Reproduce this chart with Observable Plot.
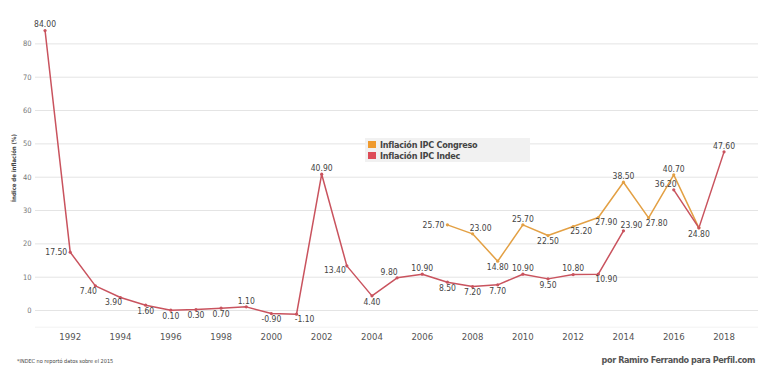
<!DOCTYPE html>
<html><head><meta charset="utf-8">
<script src="https://cdn.jsdelivr.net/npm/d3@7"></script>
<script src="https://cdn.jsdelivr.net/npm/@observablehq/plot@0.6"></script>
<style>
body{margin:0;background:#fff;font-family:"DejaVu Sans",sans-serif;font-stretch:condensed;}
#wrap{position:relative;width:765px;height:377px;overflow:hidden}
#chart svg{display:block;font-stretch:condensed}
.ylab{position:absolute;left:13px;top:167.5px;transform:translate(-50%,-50%) rotate(-90deg);font-size:6px;font-weight:bold;color:#444;white-space:nowrap;line-height:7px}
.legend{position:absolute;left:365px;top:138px;width:165px;height:24px;background:#f1f1f1;}
.legend .it{position:absolute;left:3px;height:11px;line-height:11px;font-size:9px;font-weight:bold;letter-spacing:-0.25px;color:#444;white-space:nowrap}
.legend .sw{display:inline-block;width:8px;height:7px;margin-right:4px;vertical-align:0px}
.foot{position:relative;height:27px}
.foot .l{position:absolute;left:17px;top:8px;font-size:5.5px;color:#444}
.foot .r{position:absolute;right:10px;top:5px;font-size:9px;font-weight:bold;letter-spacing:-0.4px;color:#555}
</style></head><body>
<div id="wrap">
<div id="chart"></div>
<div class="foot"><span class="l">*INDEC no reportó datos sobre el 2015</span><span class="r">por Ramiro Ferrando para Perfil.com</span></div>
</div>
<script>
const years = [1991,1992,1993,1994,1995,1996,1997,1998,1999,2000,2001,2002,2003,2004,2005,2006,2007,2008,2009,2010,2011,2012,2013,2014,2015,2016,2017,2018];
const indec = [84.0,17.5,7.4,3.9,1.6,0.1,0.3,0.7,1.1,-0.9,-1.1,40.9,13.4,4.4,9.8,10.9,8.5,7.2,7.7,10.9,9.5,10.8,10.9,23.9,null,36.2,24.8,47.6];
const indecLabelPos = ["t","l","bl","bl","b","b","b","b","t","b","br","t","lb","b","tl","t","b","b","b","t","b","t","br","tr",null,"tl",null,"t"];
const congresoYears = [2007,2008,2009,2010,2011,2012,2013,2014,2015,2016,2017];
const congreso = [25.7,23.0,14.8,25.7,22.5,25.2,27.9,38.5,27.8,40.7,24.8];
const congresoLabelPos = ["l","tr","b","t","b","br","br","t","br","t","b"];
const yTicks = [0,10,20,30,40,50,60,70,80];
const xTicks = [1992,1994,1996,1998,2000,2002,2004,2006,2008,2010,2012,2014,2016,2018];
const yLabel = "Índice de inflación (%)";
const seriesNames = ["Inflación IPC Congreso","Inflación IPC Indec"];
const seriesColors = ["#e3a044","#c9535e"];
const legendColors = ["#ef9a2e","#dd4b57"];

const indecRows = years.map((y,i)=>({year:y,value:indec[i],pos:indecLabelPos[i]}));
const congRows = congresoYears.map((y,i)=>({year:y,value:congreso[i],pos:congresoLabelPos[i]}));

const placements = {
  t:{dx:0,dy:-6,textAnchor:"middle"},
  b:{dx:0,dy:6,textAnchor:"middle"},
  l:{dx:-3,dy:0,textAnchor:"end"},
  lb:{dx:-1,dy:4,textAnchor:"end"},
  bl:{dx:-7,dy:5,textAnchor:"middle"},
  br:{dx:8,dy:5,textAnchor:"middle"},
  tr:{dx:8,dy:-6,textAnchor:"middle"},
  tl:{dx:-8,dy:-6,textAnchor:"middle"}
};
const font = '"DejaVu Sans",sans-serif';
const fmt = v => v.toFixed(2);

function labelMarks(rows){
  return Object.entries(placements).map(([k,p]) =>
    Plot.text(rows.filter(r=>r.pos===k && r.value!=null),{x:"year",y:"value",text:d=>fmt(d.value),dx:p.dx,dy:p.dy,textAnchor:p.textAnchor,lineAnchor:"middle",fill:"#444",fontSize:8.5,letterSpacing:"-0.2px"}));
}

const chart = Plot.plot({
  width:765, height:350,
  marginLeft:35, marginRight:7, marginTop:26.7, marginBottom:23.3,
  style:{fontFamily:font, background:"#fff"},
  x:{domain:[1990.62,2019.37]},
  y:{domain:[-5,85]},
  marks:[
    Plot.ruleY(yTicks,{stroke:"#e4e4e4",strokeWidth:1}),
    Plot.ruleY([-5],{stroke:"#f2f2f2",strokeWidth:1}),
    Plot.axisX(xTicks,{tickSize:0,tickPadding:6,tickFormat:d=>String(d),label:null,fontSize:9.5,fill:"#555"}),
    Plot.axisY(yTicks,{tickSize:0,tickPadding:4,label:null,fontSize:7.5,fill:"#777"}),
    Plot.lineY(congRows,{x:"year",y:"value",stroke:seriesColors[0],strokeWidth:1.5}),
    Plot.lineY(indecRows,{x:"year",y:"value",stroke:seriesColors[1],strokeWidth:1.5}),
    Plot.dot(congRows,{x:"year",y:"value",r:1.6,fill:seriesColors[0]}),
    Plot.dot(indecRows.filter(r=>r.value!=null),{x:"year",y:"value",r:1.6,fill:seriesColors[1]}),
    ...labelMarks(congRows),
    ...labelMarks(indecRows)
  ]
});
document.getElementById("chart").appendChild(chart);

const wrap = document.getElementById("wrap");
const yl = document.createElement("div");
yl.className = "ylab"; yl.textContent = yLabel;
wrap.appendChild(yl);

const lg = document.createElement("div");
lg.className = "legend";
seriesNames.forEach((n,i)=>{
  const it = document.createElement("div");
  it.className="it"; it.style.top = (i===0?2:13)+"px";
  const sw = document.createElement("span"); sw.className="sw"; sw.style.background=legendColors[i];
  it.appendChild(sw); it.appendChild(document.createTextNode(n));
  lg.appendChild(it);
});
wrap.appendChild(lg);
</script>
</body></html>
